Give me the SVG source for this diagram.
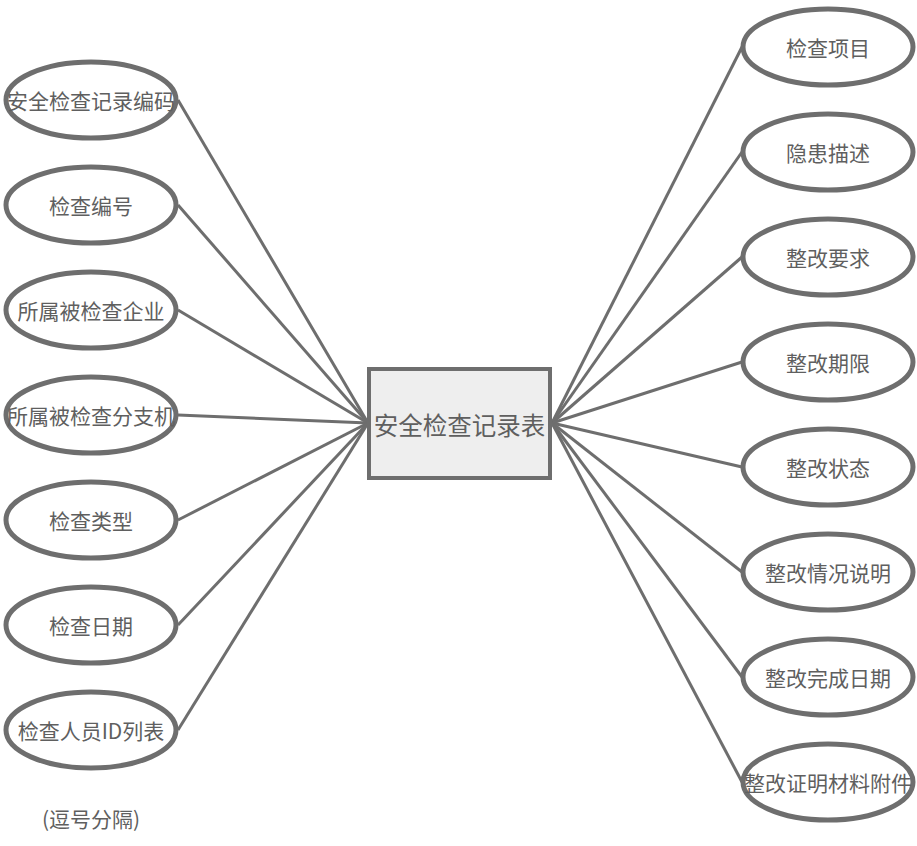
<svg xmlns="http://www.w3.org/2000/svg" width="917" height="846" viewBox="0 0 917 846">
<style>
.e{fill:#ffffff;stroke:#6e6e6e;stroke-width:5}
.t{font-family:"Noto Sans CJK SC","Liberation Sans",sans-serif;font-size:21px;fill:#5f5f5f;text-anchor:middle;dominant-baseline:central}
.c line{stroke:#6e6e6e;stroke-width:3}
</style>
<rect width="917" height="846" fill="#ffffff"/>
<g class="c" id="connectors">
<line x1="178" y1="100" x2="368" y2="423"/>
<line x1="178" y1="205" x2="368" y2="423"/>
<line x1="178" y1="310" x2="368" y2="423"/>
<line x1="178" y1="415" x2="368" y2="423"/>
<line x1="178" y1="520" x2="368" y2="423"/>
<line x1="178" y1="625" x2="368" y2="423"/>
<line x1="178" y1="730" x2="368" y2="423"/>
<line x1="552" y1="423" x2="742" y2="47"/>
<line x1="552" y1="423" x2="742" y2="152"/>
<line x1="552" y1="423" x2="742" y2="257"/>
<line x1="552" y1="423" x2="742" y2="362"/>
<line x1="552" y1="423" x2="742" y2="467"/>
<line x1="552" y1="423" x2="742" y2="572"/>
<line x1="552" y1="423" x2="742" y2="677"/>
<line x1="552" y1="423" x2="742" y2="782"/>
</g>
<g id="center">
<rect x="369" y="369" width="181" height="109" fill="#eeeeee" stroke="#6e6e6e" stroke-width="4"/>
<text class="t" x="459.5" y="424" style="font-size:24.5px">安全检查记录表</text>
</g>
<g id="l1"><ellipse class="e" cx="91" cy="100" rx="85" ry="38"/><text class="t" x="91" y="100">安全检查记录编码</text></g>
<g id="l2"><ellipse class="e" cx="91" cy="205" rx="85" ry="38"/><text class="t" x="91" y="205">检查编号</text></g>
<g id="l3"><ellipse class="e" cx="91" cy="310" rx="85" ry="38"/><text class="t" x="91" y="310">所属被检查企业</text></g>
<g id="l4"><ellipse class="e" cx="91" cy="415" rx="85" ry="38"/><text class="t" x="91" y="415">所属被检查分支机</text></g>
<g id="l5"><ellipse class="e" cx="91" cy="520" rx="85" ry="38"/><text class="t" x="91" y="520">检查类型</text></g>
<g id="l6"><ellipse class="e" cx="91" cy="625" rx="85" ry="38"/><text class="t" x="91" y="625">检查日期</text></g>
<g id="l7"><ellipse class="e" cx="91" cy="730" rx="85" ry="38"/><text class="t" x="91" y="730">检查人员ID列表</text><text class="t" x="91" y="818">(逗号分隔)</text></g>
<g id="r1"><ellipse class="e" cx="828" cy="47" rx="85" ry="38"/><text class="t" x="828" y="47">检查项目</text></g>
<g id="r2"><ellipse class="e" cx="828" cy="152" rx="85" ry="38"/><text class="t" x="828" y="152">隐患描述</text></g>
<g id="r3"><ellipse class="e" cx="828" cy="257" rx="85" ry="38"/><text class="t" x="828" y="257">整改要求</text></g>
<g id="r4"><ellipse class="e" cx="828" cy="362" rx="85" ry="38"/><text class="t" x="828" y="362">整改期限</text></g>
<g id="r5"><ellipse class="e" cx="828" cy="467" rx="85" ry="38"/><text class="t" x="828" y="467">整改状态</text></g>
<g id="r6"><ellipse class="e" cx="828" cy="572" rx="85" ry="38"/><text class="t" x="828" y="572">整改情况说明</text></g>
<g id="r7"><ellipse class="e" cx="828" cy="677" rx="85" ry="38"/><text class="t" x="828" y="677">整改完成日期</text></g>
<g id="r8"><ellipse class="e" cx="828" cy="782" rx="85" ry="38"/><text class="t" x="828" y="782">整改证明材料附件</text></g>
</svg>
